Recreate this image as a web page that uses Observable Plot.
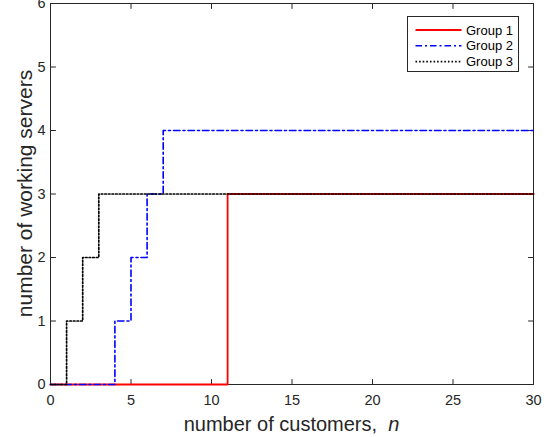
<!DOCTYPE html>
<html><head><meta charset="utf-8">
<script src="https://cdn.jsdelivr.net/npm/d3@7"></script>
<script src="https://cdn.jsdelivr.net/npm/@observablehq/plot@0.6"></script>
<style>
body{margin:0;background:#fff;}
#wrap{position:relative;width:547px;height:437px;font-family:"Liberation Sans",Arial,sans-serif;overflow:hidden;}
#wrap svg{overflow:visible;}
#legend{position:absolute;left:0;top:0;pointer-events:none;}
</style></head>
<body><div id="wrap"></div>
<script>
const customers = [0,1,2,3,4,5,6,7,8,9,10,11,12,13,14,15,16,17,18,19,20,21,22,23,24,25,26,27,28,29,30];
const group1 = [0,0,0,0,0,0,0,0,0,0,0,3,3,3,3,3,3,3,3,3,3,3,3,3,3,3,3,3,3,3,3];
const group2 = [0,0,0,0,1,2,3,4,4,4,4,4,4,4,4,4,4,4,4,4,4,4,4,4,4,4,4,4,4,4,4];
const group3 = [0,1,2,3,3,3,3,3,3,3,3,3,3,3,3,3,3,3,3,3,3,3,3,3,3,3,3,3,3,3,3];
const groupNames = ["Group 1", "Group 2", "Group 3"];
const groupColors = ["#ff0000", "#0000ff", "#000000"];
const groupDashes = [null, "6.5,3,2,3", "1.6,2"];
const groupWidths = [1.8, 1.6, 1.7];
const xTicks = [0, 5, 10, 15, 20, 25, 30];
const yTicks = [0, 1, 2, 3, 4, 5, 6];
const xLabel = "number of customers, ";
const xLabelItalic = "n";
const yLabel = "number of working servers";

const series = [group1, group2, group3];
const rows = [];
series.forEach((vals, g) => vals.forEach((v, i) => rows.push({n: customers[i], v, g: groupNames[g]})));

const axisColor = "#262626";
const tickShape = {draw(ctx, l) { ctx.moveTo(0, 0); ctx.lineTo(0, -l); }};
const tickOpts = {length: 5, anchor: "start", shape: tickShape, stroke: axisColor, strokeWidth: 1};

const W = 547, H = 437;
const plot = Plot.plot({
  width: W, height: H,
  marginLeft: 50, marginRight: 14, marginTop: 3, marginBottom: 53,
  style: {fontFamily: "'Liberation Sans', Arial, sans-serif", background: "#fff", overflow: "visible"},
  x: {domain: [0, 30]},
  y: {domain: [0, 6]},
  marks: [
    Plot.frame({stroke: axisColor, strokeWidth: 1}),
    Plot.vector(xTicks, {x: d => d, y: yTicks[0], rotate: 0, ...tickOpts}),
    Plot.vector(xTicks, {x: d => d, y: yTicks[yTicks.length - 1], rotate: 180, ...tickOpts}),
    Plot.vector(yTicks, {y: d => d, x: xTicks[0], rotate: 90, ...tickOpts}),
    Plot.vector(yTicks, {y: d => d, x: xTicks[xTicks.length - 1], rotate: -90, ...tickOpts}),
    Plot.axisX(xTicks, {tickSize: 0, tickPadding: 10, fontSize: 14.5, color: axisColor, label: null, tickFormat: d => String(d)}),
    Plot.axisY(yTicks, {tickSize: 0, tickPadding: 5, fontSize: 14.5, color: axisColor, label: null, tickFormat: d => String(d)}),
    ...groupNames.map((name, g) => Plot.line(rows.filter(d => d.g === name), {
      x: "n", y: "v", curve: "step-after",
      stroke: groupColors[g], strokeWidth: groupWidths[g],
      strokeDasharray: groupDashes[g] || undefined
    }))
  ]
});
document.getElementById("wrap").appendChild(plot);

// axis titles
const sx = plot.scale("x"), sy = plot.scale("y");
const svg = d3.select(plot);
const cx = (sx.range[0] + sx.range[1]) / 2;
const cy = (sy.range[0] + sy.range[1]) / 2;
const xt = svg.append("text")
  .attr("x", cx).attr("y", H - 6)
  .attr("text-anchor", "middle")
  .attr("font-size", 20).attr("fill", axisColor)
  .attr("font-family", "'Liberation Sans', Arial, sans-serif");
xt.append("tspan").text(xLabel + "\u00a0");
xt.append("tspan").attr("font-style", "italic").text(xLabelItalic);
svg.append("text")
  .attr("transform", `translate(32,${cy}) rotate(-90)`)
  .attr("text-anchor", "middle")
  .attr("font-size", 21).attr("fill", axisColor)
  .attr("font-family", "'Liberation Sans', Arial, sans-serif")
  .text(yLabel);

// legend
const lg = d3.select("#wrap").append("svg").attr("id", "legend").attr("width", W).attr("height", H);
const lx = 407.5, ly = 16.5, lw = 111, lh = 55;
lg.append("rect").attr("x", lx).attr("y", ly).attr("width", lw).attr("height", lh)
  .attr("fill", "#fff").attr("stroke", axisColor).attr("stroke-width", 1);
groupNames.forEach((name, g) => {
  const yy = ly + 13.5 + g * 15.8;
  lg.append("line").attr("x1", lx + 8).attr("x2", lx + 54).attr("y1", yy).attr("y2", yy)
    .attr("stroke", groupColors[g]).attr("stroke-width", groupWidths[g])
    .attr("stroke-dasharray", groupDashes[g]);
  lg.append("text").attr("x", lx + 58.5).attr("y", yy).attr("dy", "0.35em")
    .attr("font-size", 13).attr("fill", "#000")
    .attr("font-family", "'Liberation Sans', Arial, sans-serif")
    .text(name);
});
</script>
</body></html>
